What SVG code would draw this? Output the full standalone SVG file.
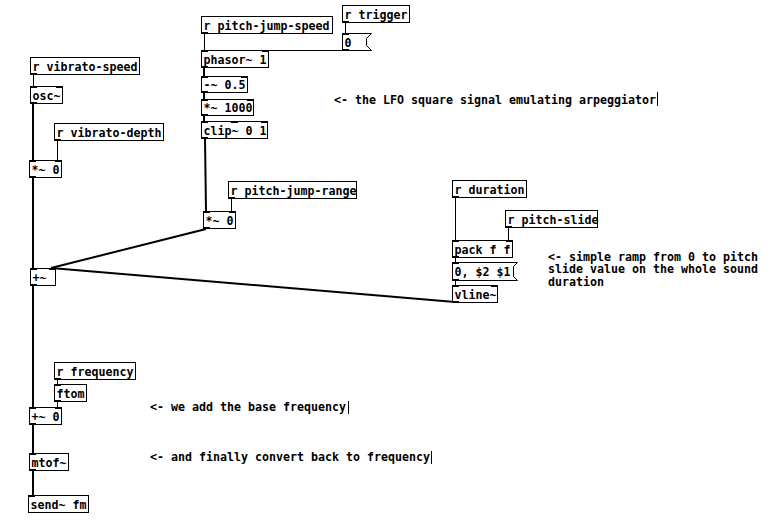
<svg xmlns="http://www.w3.org/2000/svg" width="771" height="525" viewBox="0 0 771 525">
<style>
.b{fill:#fff;stroke:#000;stroke-width:1}
.t{font-family:"DejaVu Sans Mono","Liberation Mono",monospace;font-weight:bold;font-size:11.63px;fill:#000}
.io{fill:#000}
.sig{stroke:#000;stroke-width:2;fill:none}
.ctl{stroke:#000;stroke-width:1;fill:none}
.cur{stroke:#000;stroke-width:1}
</style>
<rect width="771" height="525" fill="#fff"/>
<g id="connectors">
<line class="ctl" x1="33.5" y1="74" x2="33.5" y2="86"/>
<line class="sig" x1="33" y1="103" x2="33" y2="160"/>
<line class="ctl" x1="57.5" y1="140" x2="57.5" y2="160"/>
<line class="sig" x1="33" y1="177" x2="33" y2="268"/>
<line class="sig" x1="33" y1="285" x2="33" y2="407"/>
<line class="sig" x1="33" y1="424" x2="33" y2="453"/>
<line class="sig" x1="33" y1="470" x2="33" y2="495"/>
<line class="ctl" x1="57.5" y1="379" x2="57.5" y2="384"/>
<line class="ctl" x1="57.5" y1="401" x2="57.5" y2="407"/>
<line class="ctl" x1="204.5" y1="33" x2="204.5" y2="50"/>
<line class="ctl" x1="345.5" y1="23" x2="345.5" y2="33"/>
<line class="ctl" x1="345" y1="50.5" x2="264" y2="50.5"/>
<line class="sig" x1="204" y1="67" x2="204" y2="76"/>
<line class="sig" x1="204" y1="92" x2="204" y2="99"/>
<line class="sig" x1="204" y1="116" x2="204" y2="121"/>
<line class="sig" x1="205" y1="138" x2="206" y2="211"/>
<line class="ctl" x1="231.5" y1="198" x2="231.5" y2="211"/>
<line class="sig" x1="206" y1="229" x2="51" y2="268"/>
<line class="sig" x1="51" y1="268" x2="455" y2="302"/>
<line class="ctl" x1="455.5" y1="197" x2="455.5" y2="240"/>
<line class="ctl" x1="508.5" y1="227" x2="508.5" y2="240"/>
<line class="ctl" x1="455.5" y1="257" x2="455.5" y2="262"/>
<line class="ctl" x1="455.5" y1="280" x2="455.5" y2="285"/>
</g>
<g id="r-pitch-jump-speed"><rect class="b" x="201.5" y="16.5" width="131" height="17"/><rect class="io" x="201" y="32" width="7" height="2"/><text class="t" x="203.5" y="29.5">r pitch-jump-speed</text></g>
<g id="r-trigger"><rect class="b" x="342.5" y="5.5" width="67" height="17"/><rect class="io" x="342" y="21" width="7" height="2"/><text class="t" x="344.5" y="18.5">r trigger</text></g>
<g id="num"><path class="b" d="M342.5,33.5 H371.5 L366.5,38.5 V45.5 L371.5,50.5 H342.5 Z"/><rect class="io" x="342" y="33" width="7" height="2"/><rect class="io" x="342" y="49" width="7" height="2"/><text class="t" x="344.5" y="46.5">0</text></g>
<g id="phasor"><rect class="b" x="201.5" y="50.5" width="67" height="17"/><rect class="io" x="201" y="50" width="7" height="2"/><rect class="io" x="262" y="50" width="7" height="2"/><rect class="io" x="201" y="66" width="7" height="2"/><text class="t" x="203.5" y="63.5">phasor~ 1</text></g>
<g id="minus"><rect class="b" x="201.5" y="76.5" width="46" height="16"/><rect class="io" x="201" y="76" width="7" height="2"/><rect class="io" x="241" y="76" width="7" height="2"/><rect class="io" x="201" y="91" width="7" height="2"/><text class="t" x="203.5" y="89">-~ 0.5</text></g>
<g id="mul1000"><rect class="b" x="201.5" y="99.5" width="52" height="16"/><rect class="io" x="201" y="99" width="7" height="2"/><rect class="io" x="247" y="99" width="7" height="2"/><rect class="io" x="201" y="114" width="7" height="2"/><text class="t" x="203.5" y="112">*~ 1000</text></g>
<g id="clip"><rect class="b" x="201.5" y="121.5" width="66" height="17"/><rect class="io" x="201" y="121" width="7" height="2"/><rect class="io" x="231" y="121" width="7" height="2"/><rect class="io" x="261" y="121" width="7" height="2"/><rect class="io" x="201" y="137" width="7" height="2"/><text class="t" x="203.5" y="134.5">clip~ 0 1</text></g>
<g id="r-vibrato-speed"><rect class="b" x="30.5" y="57.5" width="109" height="17"/><rect class="io" x="30" y="73" width="7" height="2"/><text class="t" x="32.5" y="70.5">r vibrato-speed</text></g>
<g id="osc"><rect class="b" x="30.5" y="86.5" width="32" height="17"/><rect class="io" x="30" y="86" width="7" height="2"/><rect class="io" x="56" y="86" width="7" height="2"/><rect class="io" x="30" y="102" width="7" height="2"/><text class="t" x="32.5" y="99.5">osc~</text></g>
<g id="r-vibrato-depth"><rect class="b" x="54.5" y="123.5" width="109" height="17"/><rect class="io" x="54" y="139" width="7" height="2"/><text class="t" x="56.5" y="136.5">r vibrato-depth</text></g>
<g id="mul-a"><rect class="b" x="29.5" y="160.5" width="32" height="17"/><rect class="io" x="29" y="160" width="7" height="2"/><rect class="io" x="55" y="160" width="7" height="2"/><rect class="io" x="29" y="176" width="7" height="2"/><text class="t" x="31.5" y="173.5">*~ 0</text></g>
<g id="r-pitch-jump-range"><rect class="b" x="228.5" y="181.5" width="128" height="17"/><rect class="io" x="228" y="197" width="7" height="2"/><text class="t" x="230.5" y="194.5">r pitch-jump-range</text></g>
<g id="mul-b"><rect class="b" x="203.5" y="211.5" width="32" height="17"/><rect class="io" x="203" y="211" width="7" height="2"/><rect class="io" x="229" y="211" width="7" height="2"/><rect class="io" x="203" y="227" width="7" height="2"/><text class="t" x="205.5" y="224.5">*~ 0</text></g>
<g id="plus"><rect class="b" x="30.5" y="268.5" width="25" height="17"/><rect class="io" x="30" y="268" width="7" height="2"/><rect class="io" x="49" y="268" width="7" height="2"/><rect class="io" x="30" y="284" width="7" height="2"/><text class="t" x="32.5" y="281.5">+~</text></g>
<g id="r-duration"><rect class="b" x="452.5" y="180.5" width="74" height="17"/><rect class="io" x="452" y="196" width="7" height="2"/><text class="t" x="454.5" y="193.5">r duration</text></g>
<g id="r-pitch-slide"><rect class="b" x="505.5" y="210.5" width="92" height="17"/><rect class="io" x="505" y="226" width="7" height="2"/><text class="t" x="507.5" y="223.5">r pitch-slide</text></g>
<g id="pack"><rect class="b" x="452.5" y="240.5" width="60" height="17"/><rect class="io" x="452" y="240" width="7" height="2"/><rect class="io" x="506" y="240" width="7" height="2"/><rect class="io" x="452" y="256" width="7" height="2"/><text class="t" x="454.5" y="253.5">pack f f</text></g>
<g id="msg"><path class="b" d="M452.5,262.5 H517.5 L513.5,266.5 V276.5 L517.5,280.5 H452.5 Z"/><rect class="io" x="452" y="262" width="7" height="2"/><rect class="io" x="452" y="279" width="7" height="2"/><text class="t" x="454.5" y="275.5">0, $2 $1</text></g>
<g id="vline"><rect class="b" x="452.5" y="285.5" width="45" height="17"/><rect class="io" x="452" y="285" width="7" height="2"/><rect class="io" x="491" y="285" width="7" height="2"/><rect class="io" x="452" y="301" width="7" height="2"/><text class="t" x="454.5" y="298.5">vline~</text></g>
<g id="r-frequency"><rect class="b" x="54.5" y="362.5" width="81" height="17"/><rect class="io" x="54" y="378" width="7" height="2"/><text class="t" x="56.5" y="375.5">r frequency</text></g>
<g id="ftom"><rect class="b" x="54.5" y="384.5" width="32" height="17"/><rect class="io" x="54" y="384" width="7" height="2"/><rect class="io" x="54" y="400" width="7" height="2"/><text class="t" x="56.5" y="397.5">ftom</text></g>
<g id="plus0"><rect class="b" x="29.5" y="407.5" width="32" height="17"/><rect class="io" x="29" y="407" width="7" height="2"/><rect class="io" x="55" y="407" width="7" height="2"/><rect class="io" x="29" y="423" width="7" height="2"/><text class="t" x="31.5" y="420.5">+~ 0</text></g>
<g id="mtof"><rect class="b" x="29.5" y="453.5" width="39" height="17"/><rect class="io" x="29" y="453" width="7" height="2"/><rect class="io" x="29" y="469" width="7" height="2"/><text class="t" x="31.5" y="466.5">mtof~</text></g>
<g id="send"><rect class="b" x="28.5" y="495.5" width="60" height="17"/><rect class="io" x="28" y="495" width="7" height="2"/><text class="t" x="30.5" y="508.5">send~ fm</text></g>
<g id="comments">
<text class="t" x="334" y="103.5">&lt;- the LFO square signal emulating arpeggiator</text>
<line class="cur" x1="657.5" y1="92" x2="657.5" y2="106"/>
<text class="t" x="150" y="411">&lt;- we add the base frequency</text>
<line class="cur" x1="348.5" y1="401" x2="348.5" y2="414"/>
<text class="t" x="150" y="461">&lt;- and finally convert back to frequency</text>
<line class="cur" x1="431.5" y1="451" x2="431.5" y2="464"/>
<text class="t" x="548" y="260.5">&lt;- simple ramp from 0 to pitch</text>
<text class="t" x="548" y="273">slide value on the whole sound</text>
<text class="t" x="548" y="285.5">duration</text>
</g>
</svg>
